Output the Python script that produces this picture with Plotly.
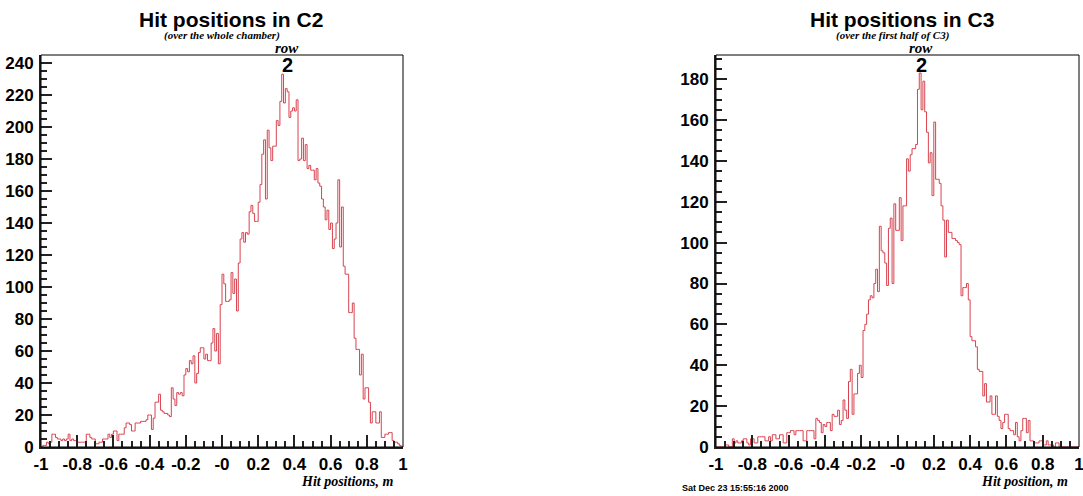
import numpy as np
import plotly.graph_objects as go

# Bin layout: 200 equal bins on [-1, 1] m
N_BINS = 200
X_MIN, X_MAX = -1.0, 1.0

# Hit counts per bin, chamber C2 (whole chamber)
c2_counts = [
    0, 1, 1, 3, 2, 3, 8, 8, 6, 5,
    5, 4, 5, 4, 5, 8, 4, 5, 4, 4,
    3, 3, 3, 3, 3, 8, 8, 6, 5, 5,
    2, 2, 3, 3, 5, 5, 5, 8, 6, 8,
    10, 10, 4, 8, 8, 8, 12, 15, 15, 14,
    10, 10, 15, 15, 15, 16, 16, 16, 17, 20,
    20, 11, 18, 28, 28, 33, 23, 22, 21, 21,
    20, 19, 37, 30, 26, 34, 33, 34, 32, 45,
    49, 47, 54, 52, 57, 40, 46, 59, 62, 62,
    55, 58, 54, 54, 65, 74, 60, 71, 52, 89,
    108, 102, 91, 91, 92, 109, 96, 105, 85, 115,
    130, 134, 128, 134, 133, 147, 151, 146, 141, 141,
    153, 164, 183, 192, 155, 198, 187, 179, 188, 188,
    204, 201, 216, 233, 215, 224, 222, 206, 210, 212,
    210, 217, 179, 180, 193, 179, 189, 174, 176, 173,
    173, 167, 174, 165, 163, 155, 150, 142, 148, 136,
    140, 124, 130, 140, 167, 125, 150, 113, 108, 108,
    84, 84, 90, 68, 61, 61, 45, 58, 30, 37,
    37, 28, 15, 22, 22, 15, 15, 22, 6, 6,
    8, 8, 9, 9, 4, 3, 3, 2, 1, 0,
]

# Hit counts per bin, chamber C3 (first half)
c3_counts = [
    0, 0, 0, 0, 0, 1, 1, 0, 0, 4,
    2, 3, 2, 2, 3, 4, 4, 2, 1, 4,
    4, 2, 2, 5, 5, 5, 5, 3, 3, 5,
    3, 6, 6, 4, 4, 6, 6, 2, 2, 7,
    7, 8, 8, 6, 8, 8, 8, 8, 3, 3,
    8, 8, 8, 8, 4, 14, 13, 12, 7, 11,
    10, 12, 12, 8, 16, 15, 15, 18, 11, 13,
    23, 18, 14, 32, 38, 16, 26, 26, 36, 40,
    34, 57, 60, 65, 72, 74, 73, 80, 87, 76,
    108, 96, 95, 90, 79, 107, 112, 80, 119, 106,
    106, 122, 101, 118, 118, 141, 135, 143, 146, 146,
    148, 175, 183, 165, 179, 164, 154, 139, 144, 123,
    159, 131, 131, 129, 118, 111, 93, 111, 105, 105,
    102, 102, 101, 100, 99, 74, 78, 78, 80, 72,
    54, 52, 52, 49, 38, 37, 37, 25, 31, 22,
    22, 25, 16, 16, 25, 15, 13, 9, 12, 16,
    16, 9, 8, 8, 6, 12, 5, 3, 8, 14,
    14, 7, 13, 3, 3, 2, 2, 2, 3, 3,
    1, 1, 3, 1, 1, 1, 0, 2, 2, 0,
    0, 0, 0, 0, 0, 0, 0, 0, 0, 0,
]

x_tick_vals = [-1, -0.8, -0.6, -0.4, -0.2, 0, 0.2, 0.4, 0.6, 0.8, 1]
x_tick_text = ["-1", "-0.8", "-0.6", "-0.4", "-0.2", "-0", "0.2", "0.4", "0.6", "0.8", "1"]
c2_y_ticks = list(range(0, 241, 20))
c3_y_ticks = list(range(0, 181, 20))

W, H = 1083, 496
LINE_RED = "#d8434f"
AXIS_DARK = "#222222"


def step_outline(counts):
    """Outline of a histogram as an hv step path starting and ending on the baseline."""
    edges = np.linspace(X_MIN, X_MAX, N_BINS + 1)
    xs = np.concatenate([[edges[0]], edges[:-1], [edges[-1]], [edges[-1]]])
    ys = np.concatenate([[0], counts, [counts[-1]], [0]])
    return xs, ys


def px_x(p):
    return p / W


def px_y(p):
    return 1 - p / H


fig = go.Figure()

for counts, xa, ya in [(c2_counts, "x", "y"), (c3_counts, "x2", "y2")]:
    xs, ys = step_outline(counts)
    fig.add_trace(go.Scatter(
        x=xs, y=ys, mode="lines", line=dict(color=LINE_RED, width=1, shape="hv"),
        xaxis=xa, yaxis=ya, showlegend=False, hoverinfo="skip",
    ))

tick_font = dict(family="Liberation Sans, Arial, sans-serif", size=17, color="black", weight="bold")

x_common = dict(
    range=[X_MIN, X_MAX], tickmode="array", tickvals=x_tick_vals, ticktext=x_tick_text,
    ticks="inside", ticklen=12, tickwidth=1.5, tickcolor=AXIS_DARK,
    minor=dict(tickmode="linear", tick0=-1, dtick=0.05, ticks="inside", ticklen=6,
               tickwidth=1.5, tickcolor=AXIS_DARK, showgrid=False),
    showline=True, linewidth=2, linecolor=AXIS_DARK, mirror=False,
    showgrid=False, zeroline=False, tickfont=tick_font, ticklabelstandoff=1,
    ticklabeloverflow="allow", automargin=False, fixedrange=True,
)
y_common = dict(
    tickmode="array", ticks="inside", ticklen=11, tickwidth=1.5, tickcolor=AXIS_DARK,
    minor=dict(tickmode="linear", tick0=0, dtick=5, ticks="inside", ticklen=6,
               tickwidth=1.5, tickcolor=AXIS_DARK, showgrid=False),
    showline=True, linewidth=2, linecolor=AXIS_DARK, mirror=False,
    showgrid=False, zeroline=False, tickfont=tick_font, ticklabelstandoff=2,
    ticklabeloverflow="allow", automargin=False, fixedrange=True,
)

y_dom = [px_y(447), px_y(55)]

fig.update_layout(
    width=W, height=H, margin=dict(l=0, r=0, t=0, b=0, pad=0, autoexpand=False),
    paper_bgcolor="white", plot_bgcolor="white",
    xaxis=dict(domain=[px_x(41), px_x(403)], anchor="y", **x_common),
    yaxis=dict(domain=y_dom, anchor="x", range=[0, 245],
               tickvals=c2_y_ticks, ticktext=[str(v) for v in c2_y_ticks], **y_common),
    xaxis2=dict(domain=[px_x(716), px_x(1079)], anchor="y2", **x_common),
    yaxis2=dict(domain=y_dom, anchor="x2", range=[0, 191.8],
                tickvals=c3_y_ticks, ticktext=[str(v) for v in c3_y_ticks], **y_common),
)

# Thin frame around each pad
for xd, yd in [("x domain", "y domain"), ("x2 domain", "y2 domain")]:
    fig.add_shape(type="rect", xref=xd, yref=yd, x0=0, x1=1, y0=0, y1=1,
                  line=dict(color="black", width=1), layer="above")

title_font = dict(family="Liberation Sans, Arial, sans-serif", size=21, color="black", weight="bold")
sub_font = dict(family="Liberation Serif, Times New Roman, serif", size=11, color="black",
                weight="bold", style="italic")
row_font = dict(family="Liberation Serif, Times New Roman, serif", size=15, color="black",
                weight="bold", style="italic")
num_font = dict(family="Liberation Sans, Arial, sans-serif", size=20, color="black", weight="bold")
axis_title_font = dict(family="Liberation Serif, Times New Roman, serif", size=14, color="black",
                       weight="bold", style="italic")

texts = [
    ("Hit positions in C2", 231, 19, title_font, "center"),
    ("(over the whole chamber)", 222, 35, sub_font, "center"),
    ("row", 287, 48, row_font, "center"),
    ("2", 287, 65, num_font, "center"),
    ("Hit positions in C3", 902, 19, title_font, "center"),
    ("(over the first half of C3)", 892, 35, sub_font, "center"),
    ("row", 921, 48, row_font, "center"),
    ("2", 921, 65, num_font, "center"),
    ("Hit positions, m", 396, 481, axis_title_font, "right"),
    ("Hit position, m", 1070, 481, axis_title_font, "right"),
    ("Sat Dec 23 15:55:16 2000", 680, 488,
     dict(family="Liberation Sans, Arial, sans-serif", size=9, color="black", weight="bold"), "left"),
]
for text, x, y, font, anchor in texts:
    fig.add_annotation(text=text, x=px_x(x), y=px_y(y), xref="paper", yref="paper",
                       xanchor=anchor, yanchor="middle", showarrow=False, font=font)

fig.write_html("out.html")
